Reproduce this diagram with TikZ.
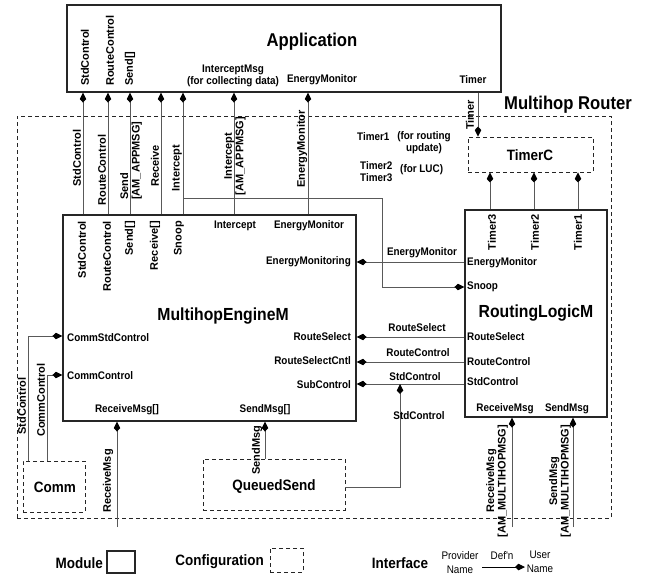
\documentclass[tikz,border=0pt]{standalone}
\usepackage{fontspec}
\setmainfont{Liberation Sans}
\newfontfamily\narrowsf{Liberation Sans}[FakeStretch=0.9]
\usetikzlibrary{arrows.meta}
\tikzset{
  module/.style={draw=black!85,line width=1.1pt,inner sep=0pt},
  config/.style={draw=black!85,line width=0.9pt,dash pattern=on 4pt off 3pt,inner sep=0pt},
  wire/.style={draw=black!65,line width=1pt},
  uses/.style={wire,-{Kite[length=10pt,width=6.5pt,inset=3.5pt,color=black]}},
  lbl/.style={font=\narrowsf\bfseries\fontsize{11}{12}\selectfont,inner sep=0pt},
  rlbl/.style={rotate=90,font=\bfseries\fontsize{11}{11.5}\selectfont,inner sep=0pt},
  big/.style={font=\narrowsf\bfseries\fontsize{18.5}{20}\selectfont,inner sep=0pt},
  modtitle/.style={font=\narrowsf\bfseries\fontsize{17.5}{20}\selectfont,inner sep=0pt},
  conftitle/.style={font=\narrowsf\bfseries\fontsize{15}{17}\selectfont,inner sep=0pt},
  plain/.style={font=\narrowsf\fontsize{11}{14}\selectfont,inner sep=0pt,align=center},
}
\begin{document}
\begin{tikzpicture}[x=1pt,y=-1pt]
  \useasboundingbox (0,0) rectangle (651,579);
  % boxes
  \node[config,minimum width=594pt,minimum height=402pt] (router) at (314,317) {};
  \node[module,minimum width=434pt,minimum height=87pt] (app) at (284,48.5) {};
  \node[module,minimum width=293pt,minimum height=206pt] (mem) at (209.5,318) {};
  \node[module,minimum width=142pt,minimum height=207pt] (rlm) at (536,313.5) {};
  \node[config,minimum width=125pt,minimum height=35pt] (timerc) at (530.5,154.5) {};
  \node[config,minimum width=142pt,minimum height=51pt] (qsend) at (274,484.5) {};
  \node[config,minimum width=62pt,minimum height=51pt] (comm) at (54,486.5) {};
  \node[big] (appT) at (312,42) {Application};
  \node[big] (routerT) at (568,105) {Multihop Router};
  \node[modtitle] (memT) at (223,316) {MultihopEngineM};
  \node[modtitle] (rlmT) at (536,313) {RoutingLogicM};
  \node[conftitle] (timercT) at (530,155) {TimerC};
  \node[conftitle] (qsendT) at (274,487) {QueuedSend};
  \node[conftitle] (commT) at (55,487) {Comm};
  % columns and rows
  \coordinate (xStd) at (83,0);
  \coordinate (xRc) at (108,0);
  \coordinate (xSend) at (130,0);
  \coordinate (xRecv) at (161,0);
  \coordinate (xIcpt) at (183,0);
  \coordinate (xIcm) at (234,0);
  \coordinate (xEm) at (308,0);
  \coordinate (xSnoop) at (382,0);
  \coordinate (xTimer) at (478,0);
  \coordinate (xT3) at (490,0);
  \coordinate (xT2) at (534,0);
  \coordinate (xT1) at (578,0);
  \coordinate (xSmsg) at (265,0);
  \coordinate (xSub) at (400,0);
  \coordinate (xCstd) at (28,0);
  \coordinate (xCctl) at (47,0);
  \coordinate (yEm) at (0,262);
  \coordinate (ySnoop) at (0,287);
  \coordinate (yRs) at (0,337);
  \coordinate (yRc) at (0,362);
  \coordinate (yStd) at (0,384);
  \coordinate (yQ) at (0,487);
  \coordinate (yCstd) at (0,336);
  \coordinate (yCctl) at (0,375);
  \coordinate (snoopJ) at (183,198);
  \coordinate (rmsgIn) at (117,527);
  \coordinate (lrmIn) at (512,527);
  \coordinate (lsmIn) at (573,527);
  % application <- multihop engine
  \foreach \c in {xStd,xRc,xSend,xRecv,xIcpt,xIcm,xEm}
    \draw[uses] (mem.north -| \c) -- (app.south -| \c);
  \draw[uses]
    (snoopJ)
    --
    (snoopJ -| xSnoop)
    --
    (xSnoop |- ySnoop)
    --
    (rlm.west |- ySnoop);
  \draw[uses] (app.south -| xTimer) -- (timerc.north -| xTimer);
  \foreach \c in {xT3,xT2,xT1}
    \draw[uses] (rlm.north -| \c) -- (timerc.south -| \c);
  % routing logic -> engine
  \foreach \r in {yEm,yRs,yRc,yStd}
    \draw[uses] (rlm.west |- \r) -- (mem.east |- \r);
  \draw[uses]
    (qsend.east |- yQ)
    --
    (xSub |- yQ)
    --
    (xSub |- yStd);
  \draw[uses] (qsend.north -| xSmsg) -- (mem.south -| xSmsg);
  \draw[uses] (rmsgIn) -- (mem.south -| rmsgIn);
  \draw[uses]
    (comm.north -| xCstd)
    --
    (xCstd |- yCstd)
    --
    (mem.west |- yCstd);
  \draw[uses]
    (comm.north -| xCctl)
    --
    (xCctl |- yCctl)
    --
    (mem.west |- yCctl);
  \draw[uses] (lrmIn) -- (rlm.south -| lrmIn);
  \draw[uses] (lsmIn) -- (rlm.south -| lsmIn);
  % labels in application
  \node[rlbl,anchor=west] (aStd) at (85,86) {StdControl};
  \node[rlbl,anchor=west] (aRc) at (110,86) {RouteControl};
  \node[rlbl,anchor=west] (aSend) at (130,86) {Send[]};
  \node[lbl,align=center] (aIcm) at (233,76) {InterceptMsg\\(for collecting data)};
  \node[lbl] (aEm) at (322,80) {EnergyMonitor};
  \node[lbl] (aTimer) at (473,80) {Timer};
  % labels on the wires above
  \node[rlbl] (oStd) at (77,158) {StdControl};
  \node[rlbl] (oRc) at (102,170) {RouteControl};
  \node[rlbl,anchor=west,align=left] (oSend) at (131,200) {Send\\{}[AM\_APPMSG]};
  \node[rlbl] (oRecv) at (155,166) {Receive};
  \node[rlbl] (oIcpt) at (177,168) {Intercept};
  \node[rlbl,align=center] (oIcm) at (235,156) {Intercept\\{}[AM\_APPMSG]};
  \node[rlbl] (oEm) at (302,149) {EnergyMonitor};
  \node[rlbl] (oTimer) at (470,115) {Timer};
  \node[lbl,anchor=west] (nT1) at (357,137) {Timer1};
  \node[lbl,align=center] (nT1b) at (424,143) {(for routing\\update)};
  \node[lbl,anchor=west,align=left] (nT23) at (360,172) {Timer2\\Timer3};
  \node[lbl,anchor=west] (nLuc) at (400,170) {(for LUC)};
  % labels in multihop engine
  \node[rlbl,anchor=east] (mStd) at (82,221) {StdControl};
  \node[rlbl,anchor=east] (mRc) at (107,221) {RouteControl};
  \node[rlbl,anchor=east] (mSend) at (130,221) {Send[]};
  \node[rlbl,anchor=east] (mRecv) at (155,221) {Receive[]};
  \node[rlbl,anchor=east] (mSnoop) at (179,221) {Snoop};
  \node[lbl] (mIcpt) at (235,226) {Intercept};
  \node[lbl] (mEm) at (309,226) {EnergyMonitor};
  \node[lbl,anchor=east] (mEmg) at (351,262) {EnergyMonitoring};
  \node[lbl,anchor=west] (mCstd) at (67,338) {CommStdControl};
  \node[lbl,anchor=west] (mCctl) at (67,376) {CommControl};
  \node[lbl,anchor=east] (mRs) at (351,337) {RouteSelect};
  \node[lbl,anchor=east] (mRsc) at (351,361) {RouteSelectCntl};
  \node[lbl,anchor=east] (mSub) at (351,385) {SubControl};
  \node[lbl] (mRmsg) at (127,410) {ReceiveMsg[]};
  \node[lbl] (mSmsg) at (265,410) {SendMsg[]};
  % labels in routing logic
  \node[rlbl,anchor=east] (rT3) at (492,214) {Timer3};
  \node[rlbl,anchor=east] (rT2) at (535,214) {Timer2};
  \node[rlbl,anchor=east] (rT1) at (578,214) {Timer1};
  \node[lbl,anchor=west] (rEm) at (467,263) {EnergyMonitor};
  \node[lbl,anchor=west] (rSnoop) at (467,287) {Snoop};
  \node[lbl,anchor=west] (rRs) at (467,337) {RouteSelect};
  \node[lbl,anchor=west] (rRc) at (467,362) {RouteControl};
  \node[lbl,anchor=west] (rStd) at (467,382) {StdControl};
  \node[lbl] (rRmsg) at (505,409) {ReceiveMsg};
  \node[lbl] (rSmsg) at (567,409) {SendMsg};
  % labels on the other wires
  \node[lbl] (wEm) at (422,253) {EnergyMonitor};
  \node[lbl] (wRs) at (417,328) {RouteSelect};
  \node[lbl] (wRc) at (418,353) {RouteControl};
  \node[lbl] (wStd) at (415,377) {StdControl};
  \node[lbl] (wQStd) at (419,416) {StdControl};
  \node[rlbl] (wCstd) at (22,406) {StdControl};
  \node[rlbl] (wCctl) at (41,400) {CommControl};
  \node[rlbl] (wSmsg) at (257,450) {SendMsg};
  \node[rlbl] (wRmsg) at (108,481) {ReceiveMsg};
  \node[rlbl,align=center] (wLrm) at (497,481) {ReceiveMsg\\{}[AM\_MULTIHOPMSG]};
  \node[rlbl,align=center] (wLsm) at (560,481) {SendMsg\\{}[AM\_MULTIHOPMSG]};
  % legend
  \node[module,minimum width=28pt,minimum height=22pt] (legMod) at (121,562) {};
  \node[conftitle,anchor=east] (legModT) at (103,563) {Module};
  \node[config,minimum width=33pt,minimum height=24pt] (legConf) at (286.5,560) {};
  \node[conftitle,anchor=east] (legConfT) at (264,562) {Configuration};
  \node[conftitle] (legIfT) at (400,563) {Interface};
  \node[plain] (legProv) at (460,563) {Provider\\Name};
  \node[plain] (legDef) at (502,556) {Def'n};
  \node[plain] (legUser) at (540,562) {User\\Name};
  \coordinate (legA) at (482,567);
  \coordinate (legB) at (525,567);
  \draw[uses,draw=black] (legA) -- (legB);
\end{tikzpicture}
\end{document}
